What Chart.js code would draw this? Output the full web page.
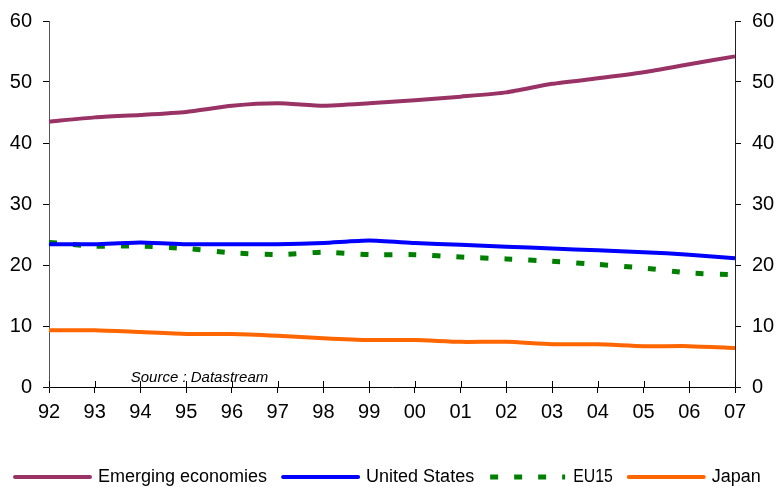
<!DOCTYPE html>
<html>
<head>
<meta charset="utf-8">
<script src="https://cdn.jsdelivr.net/npm/chart.js@4/dist/chart.umd.min.js"></script>
<style>
  html, body { margin: 0; padding: 0; background: #ffffff; }
  #wrap { width: 781px; height: 487px; position: relative; }
</style>
</head>
<body>
<div id="wrap"><canvas id="c" width="781" height="487"></canvas></div>
<script>
const years = ["92","93","94","95","96","97","98","99","00","01","02","03","04","05","06","07"];
const emerging = [43.5,44.2,44.6,45.1,46.1,46.5,46.1,46.5,47.0,47.6,48.3,49.7,50.6,51.6,52.9,54.2];
const unitedStates = [23.4,23.4,23.7,23.4,23.4,23.4,23.6,24.0,23.6,23.3,23.0,22.7,22.4,22.1,21.7,21.1];
const eu15 = [23.7,23.1,23.1,22.7,22.0,21.7,22.1,21.7,21.7,21.3,21.0,20.6,20.1,19.5,18.7,18.4];
const japan = [9.3,9.3,9.0,8.7,8.7,8.4,8.0,7.7,7.7,7.4,7.4,7.0,7.0,6.7,6.7,6.4];
const yTicks = [0,10,20,30,40,50,60];
const sourceNote = "Source : Datastream";

const FONT = "'Liberation Sans', Arial, sans-serif";

const extras = {
  id: 'extras',
  afterDraw(chart) {
    const ctx = chart.ctx;
    const x = chart.scales.x;
    const y = chart.scales.y;
    const y0 = y.getPixelForValue(0);
    ctx.save();
    // inner halves of x-axis tick marks
    ctx.strokeStyle = '#000';
    ctx.lineWidth = 1;
    for (let i = 0; i < years.length; i++) {
      const px = Math.round(x.getPixelForValue(i)) + 0.5;
      ctx.beginPath();
      ctx.moveTo(px, y0 - 6);
      ctx.lineTo(px, y0);
      ctx.stroke();
    }
    // source note
    ctx.fillStyle = '#000';
    ctx.font = "italic 15px " + FONT;
    ctx.textAlign = 'left';
    ctx.textBaseline = 'alphabetic';
    ctx.fillText(sourceNote, x.getPixelForValue(1) + 36, y0 - 5);

    // legend
    ctx.font = "18px " + FONT;
    ctx.textBaseline = 'middle';
    const ly = 477;
    let lx = 15;
    const sampleW = 75;
    chart.data.datasets.forEach((ds, i) => {
      ctx.save();
      ctx.strokeStyle = ds.borderColor;
      ctx.lineWidth = ds.borderWidth;
      ctx.lineCap = ds.borderDash ? 'butt' : 'round';
      ctx.setLineDash(ds.borderDash || []);
      ctx.beginPath();
      ctx.moveTo(lx, ly);
      ctx.lineTo(lx + sampleW, ly);
      ctx.stroke();
      ctx.restore();
      const tx = lx + sampleW + 8;
      ctx.fillStyle = '#000';
      const w = ctx.measureText(ds.label).width;
      const maxW = ds.label.length <= 4 ? w * 0.88 : w;
      ctx.fillText(ds.label, tx, ly, maxW);
      lx = tx + maxW + 16;
    });
    ctx.restore();
  }
};

const common = { fill: false, pointRadius: 0, pointHoverRadius: 0, tension: 0.2 };

new Chart(document.getElementById('c'), {
  type: 'line',
  data: {
    labels: years,
    datasets: [
      Object.assign({ label: 'Emerging economies', data: emerging, borderColor: '#993366', backgroundColor: '#993366', borderWidth: 4 }, common),
      Object.assign({ label: 'United States', data: unitedStates, borderColor: '#0000FF', backgroundColor: '#0000FF', borderWidth: 4 }, common),
      Object.assign({ label: 'EU15', data: eu15, borderColor: '#008000', backgroundColor: '#008000', borderWidth: 5, borderDash: [8, 16], borderCapStyle: 'butt' }, common),
      Object.assign({ label: 'Japan', data: japan, borderColor: '#FF6600', backgroundColor: '#FF6600', borderWidth: 4 }, common)
    ]
  },
  options: {
    responsive: false,
    animation: false,
    layout: { padding: { top: 20, right: 0, left: 0, bottom: 0 } },
    plugins: {
      tooltip: { enabled: false },
      legend: { display: false }
    },
    scales: {
      x: {
        type: 'category',
        offset: false,
        grid: { display: true, drawOnChartArea: false, drawTicks: true, tickLength: 6, color: '#000' },
        border: { display: true, color: '#000', width: 1 },
        ticks: { color: '#000', font: { family: FONT, size: 20, lineHeight: 1.2 }, padding: 7, maxRotation: 0, autoSkip: false },
        afterFit(s) { s.height = 100; }
      },
      y: {
        position: 'left',
        min: 0, max: 60,
        afterBuildTicks(s) { s.ticks = yTicks.map(v => ({ value: v })); },
        grid: { display: true, drawOnChartArea: false, drawTicks: true, tickLength: 6, color: '#000' },
        border: { display: true, color: '#555', width: 1 },
        ticks: { color: '#000', font: { family: FONT, size: 20, lineHeight: 1 }, padding: 11 },
        afterFit(s) { s.width = 49; }
      },
      y2: {
        position: 'right',
        min: 0, max: 60,
        afterBuildTicks(s) { s.ticks = yTicks.map(v => ({ value: v })); },
        grid: { display: true, drawOnChartArea: false, drawTicks: true, tickLength: 6, color: '#000' },
        border: { display: true, color: '#222', width: 1 },
        ticks: { color: '#000', font: { family: FONT, size: 20, lineHeight: 1 }, padding: 11 },
        afterFit(s) { s.width = 46; }
      }
    }
  },
  plugins: [extras]
});
</script>
</body>
</html>
